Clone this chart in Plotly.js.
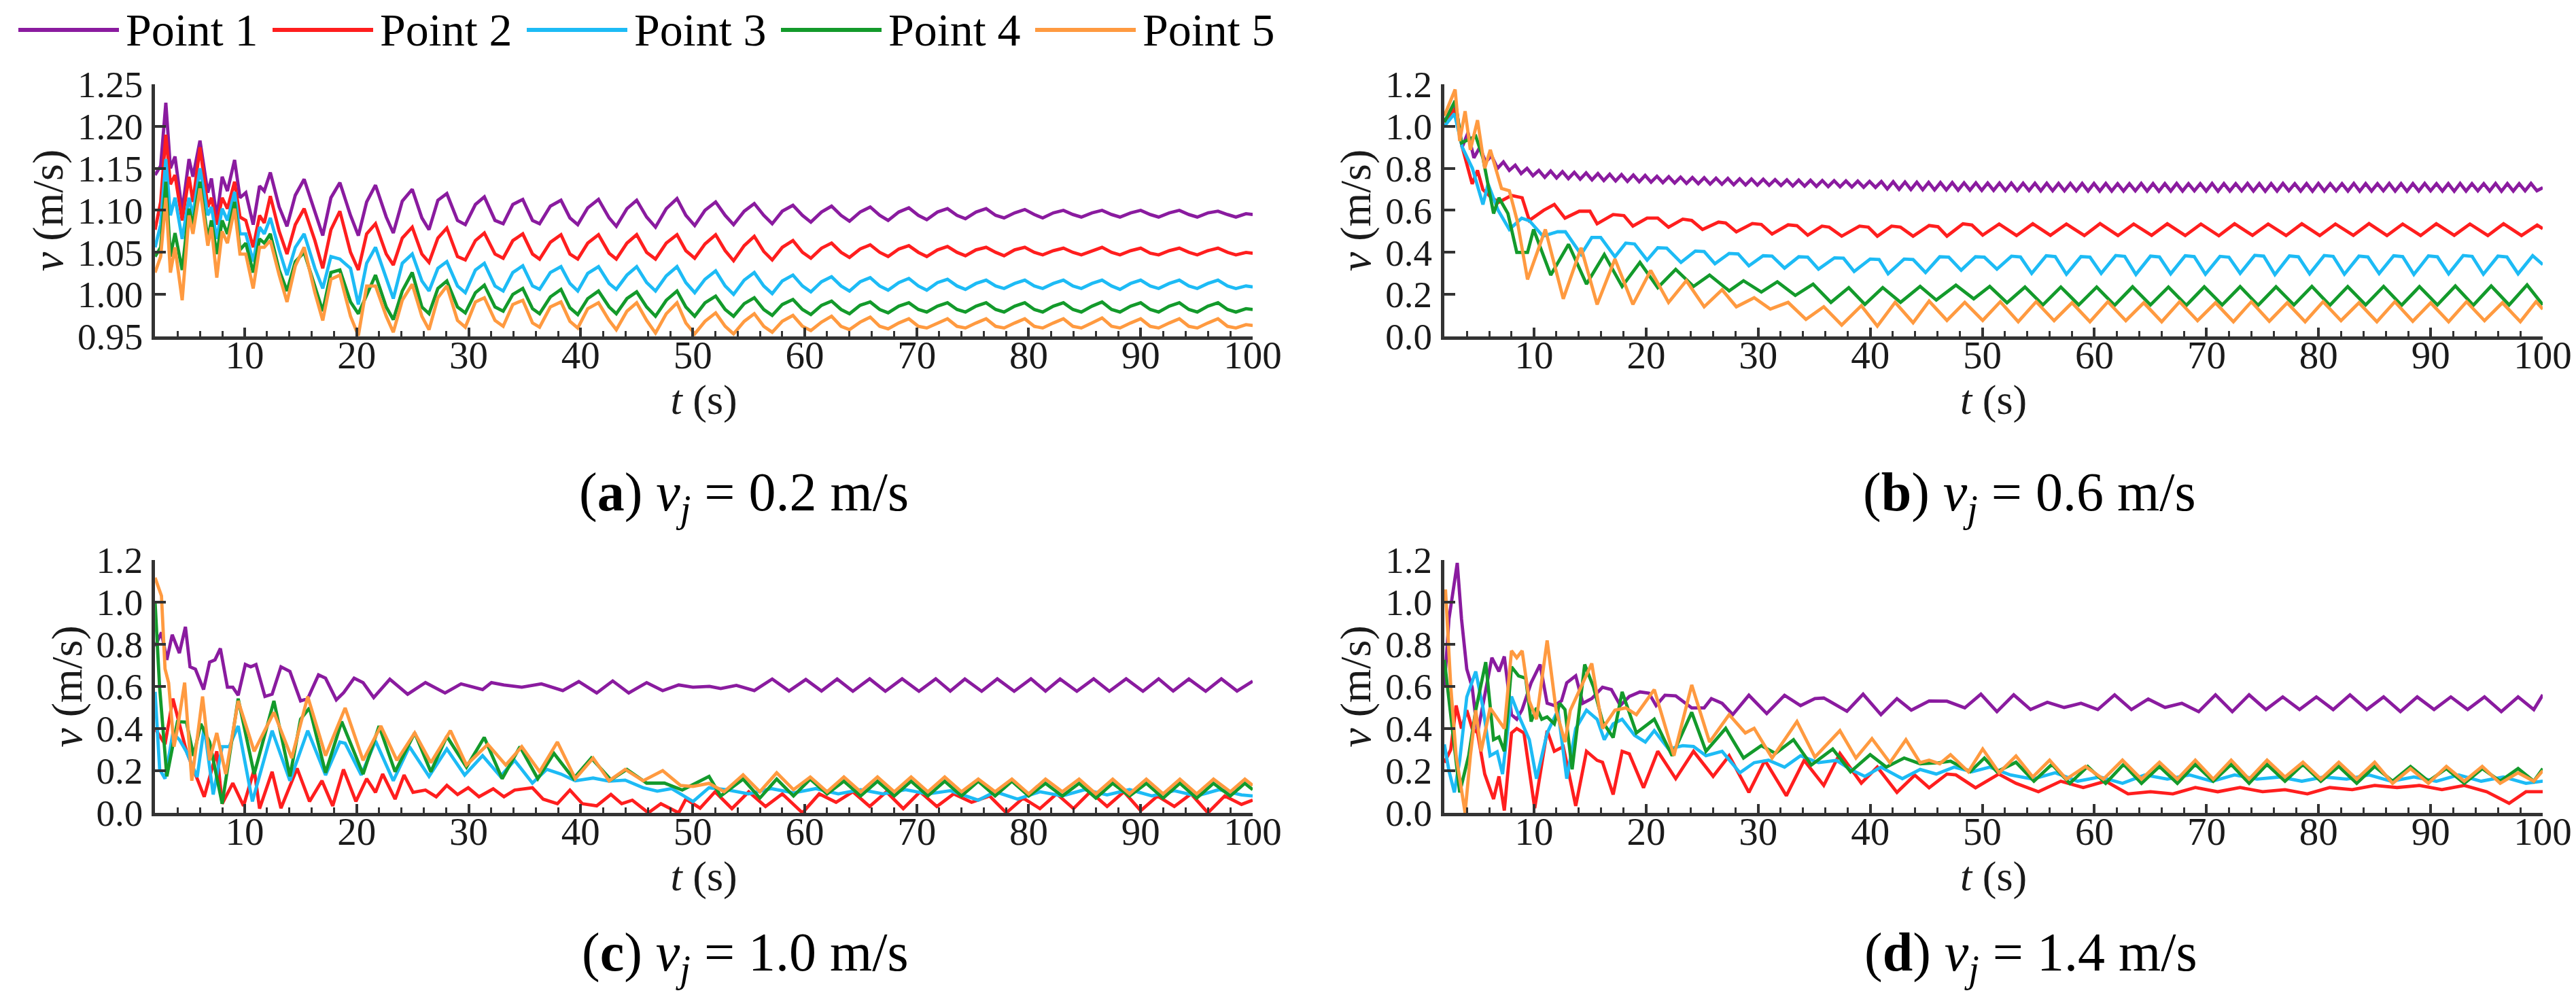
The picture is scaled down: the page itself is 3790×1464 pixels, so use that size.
<!DOCTYPE html>
<html>
<head>
<meta charset="utf-8">
<script src="https://cdn.plot.ly/plotly-3.0.1.min.js"></script>
<style>
  html, body { margin: 0; padding: 0; background: #ffffff; }
</style>
</head>
<body>
<div id="chart" style="width:3790px;height:1464px"></div>
<script>
// Velocity at the five monitoring points, four jet speeds.

const seriesNames = ['Point 1', 'Point 2', 'Point 3', 'Point 4', 'Point 5'];
const captionLetters = ['a', 'b', 'c', 'd'];
const jetSpeeds = [0.2, 0.6, 1.0, 1.4];

const xTickVals = [10, 20, 30, 40, 50, 60, 70, 80, 90, 100];
const xTickText = ['10', '20', '30', '40', '50', '60', '70', '80', '90', '100'];
const yTickValsA = [0.95, 1.00, 1.05, 1.10, 1.15, 1.20, 1.25];
const yTickTextA = ['0.95', '1.00', '1.05', '1.10', '1.15', '1.20', '1.25'];
const yTickVals = [0, 0.2, 0.4, 0.6, 0.8, 1.0, 1.2];
const yTickText = ['0.0', '0.2', '0.4', '0.6', '0.8', '1.0', '1.2'];

// ---- (a) vj = 0.2 m/s : one time base shared by all five points
const tA = [2.0, 2.5, 2.96, 3.37, 3.78, 4.42, 5.03, 5.38, 6.01, 6.71, 7.03, 7.51, 7.99, 8.46, 9.10, 9.58, 10.1, 10.76, 11.33, 11.75,
  12.29, 13.08, 13.78, 14.52, 15.31, 16.27, 16.97, 17.70, 18.50, 19.45, 20.15, 20.89, 21.68, 22.64, 23.27, 24.07, 24.96, 25.82, 26.46, 27.25,
  28.05, 29.0, 29.7, 30.6, 31.4, 32.35, 33.08, 33.94, 34.83, 35.7, 36.33, 37.29, 38.24, 39.04, 39.74, 40.63, 41.59, 42.54, 43.18, 44.13,
  45.0, 45.89, 46.68, 47.64, 48.6, 49.39, 50.18,
  51.1, 52.05, 52.9, 53.65, 54.6, 55.5, 56.35, 57.1, 58.0, 58.95, 59.8, 60.55, 61.5, 62.4, 63.25, 64.0,
  64.95, 65.85, 66.7, 67.45, 68.4, 69.3, 70.15, 70.9, 71.85, 72.75, 73.6, 74.35, 75.3, 76.2, 77.05, 77.8,
  78.75, 79.65, 80.5, 81.25, 82.2, 83.1, 83.95, 84.7, 85.65, 86.55, 87.4, 88.15, 89.1, 90.0, 90.85, 91.6,
  92.55, 93.45, 94.3, 95.05, 96.0, 96.9, 97.75, 98.5, 99.4, 100];
const vA1 = [1.142, 1.153, 1.228, 1.150, 1.164, 1.099, 1.161, 1.140, 1.183, 1.121,
  1.138, 1.091, 1.140, 1.123, 1.160, 1.115, 1.121, 1.083, 1.129, 1.123,
  1.145, 1.104, 1.081, 1.118, 1.137, 1.099, 1.070, 1.115, 1.133, 1.094,
  1.070, 1.110, 1.130, 1.092, 1.073, 1.111, 1.125, 1.091, 1.077, 1.112,
  1.120, 1.088, 1.083, 1.107, 1.116, 1.088, 1.084, 1.107, 1.113, 1.088,
  1.084, 1.105, 1.112, 1.091, 1.083, 1.103, 1.113, 1.091, 1.081, 1.102,
  1.112, 1.092, 1.080, 1.102, 1.114, 1.094, 1.082,
  1.100, 1.110, 1.094, 1.083, 1.099, 1.108, 1.094, 1.084, 1.099, 1.106, 1.094, 1.086, 1.098, 1.105, 1.094, 1.087,
  1.098, 1.104, 1.094, 1.088, 1.098, 1.103, 1.094, 1.089, 1.098, 1.102, 1.094, 1.090, 1.098, 1.102, 1.094, 1.091,
  1.097, 1.101, 1.095, 1.091, 1.097, 1.100, 1.095, 1.092, 1.097, 1.100, 1.095, 1.092, 1.097, 1.100, 1.095, 1.092,
  1.097, 1.100, 1.095, 1.092, 1.097, 1.099, 1.095, 1.092, 1.096, 1.095];
const vA2 = [1.077, 1.110, 1.190, 1.131, 1.142, 1.088, 1.140, 1.110, 1.175, 1.104,
  1.115, 1.083, 1.115, 1.102, 1.134, 1.092, 1.088, 1.056, 1.094, 1.085,
  1.117, 1.075, 1.048, 1.083, 1.102, 1.064, 1.031, 1.077, 1.099, 1.050,
  1.029, 1.072, 1.084, 1.048, 1.035, 1.067, 1.080, 1.048, 1.038, 1.067,
  1.079, 1.045, 1.041, 1.064, 1.073, 1.048, 1.043, 1.064, 1.072, 1.048,
  1.042, 1.062, 1.071, 1.048, 1.042, 1.061, 1.071, 1.049, 1.042, 1.061,
  1.071, 1.050, 1.042, 1.061, 1.071, 1.052, 1.043,
  1.060, 1.071, 1.052, 1.040, 1.058, 1.069, 1.051, 1.041, 1.056, 1.064, 1.050, 1.043, 1.055, 1.061, 1.050, 1.044,
  1.054, 1.059, 1.050, 1.045, 1.054, 1.058, 1.050, 1.045, 1.053, 1.057, 1.050, 1.046, 1.053, 1.056, 1.050, 1.046,
  1.053, 1.056, 1.050, 1.047, 1.052, 1.055, 1.050, 1.047, 1.052, 1.056, 1.050, 1.047, 1.052, 1.055, 1.049, 1.047,
  1.052, 1.055, 1.050, 1.047, 1.052, 1.055, 1.050, 1.047, 1.050, 1.049];
const vA3 = [1.056, 1.083, 1.161, 1.094, 1.115, 1.066, 1.115, 1.094, 1.150, 1.094,
  1.104, 1.066, 1.102, 1.088, 1.122, 1.072, 1.072, 1.039, 1.080, 1.072,
  1.091, 1.053, 1.023, 1.056, 1.072, 1.031, 1.007, 1.045, 1.042, 1.031,
  0.988, 1.037, 1.056, 1.018, 0.995, 1.037, 1.048, 1.016, 1.004, 1.031,
  1.039, 1.010, 1.002, 1.029, 1.037, 1.010, 1.004, 1.026, 1.034, 1.010,
  1.006, 1.026, 1.033, 1.013, 1.004, 1.025, 1.033, 1.013, 1.006, 1.023,
  1.033, 1.014, 1.004, 1.022, 1.033, 1.014, 1.002,
  1.018, 1.028, 1.010, 1.000, 1.017, 1.026, 1.010, 1.001, 1.016, 1.023, 1.010, 1.003, 1.015, 1.021, 1.010, 1.004,
  1.015, 1.020, 1.010, 1.005, 1.014, 1.019, 1.010, 1.005, 1.014, 1.018, 1.010, 1.006, 1.013, 1.017, 1.010, 1.007,
  1.013, 1.017, 1.010, 1.007, 1.013, 1.017, 1.010, 1.007, 1.013, 1.017, 1.010, 1.006, 1.013, 1.017, 1.010, 1.007,
  1.013, 1.017, 1.010, 1.007, 1.013, 1.017, 1.010, 1.007, 1.010, 1.009];
const vA4 = [1.045, 1.056, 1.134, 1.045, 1.073, 1.029, 1.102, 1.083, 1.134, 1.066,
  1.088, 1.048, 1.088, 1.072, 1.110, 1.053, 1.061, 1.026, 1.066, 1.061,
  1.072, 1.029, 1.004, 1.039, 1.050, 1.010, 0.980, 1.026, 1.029, 0.991,
  0.977, 0.999, 1.023, 0.985, 0.970, 1.004, 1.026, 0.985, 0.977, 1.007,
  1.016, 0.985, 0.978, 1.002, 1.011, 0.985, 0.980, 1.000, 1.007, 0.983,
  0.977, 0.997, 1.006, 0.984, 0.976, 0.995, 1.004, 0.985, 0.977, 0.995,
  1.003, 0.985, 0.974, 0.993, 1.004, 0.985, 0.974,
  0.990, 0.998, 0.982, 0.974, 0.989, 0.996, 0.982, 0.975, 0.988, 0.994, 0.982, 0.976, 0.987, 0.992, 0.982, 0.977,
  0.987, 0.991, 0.982, 0.978, 0.986, 0.990, 0.982, 0.979, 0.986, 0.990, 0.982, 0.979, 0.986, 0.990, 0.982, 0.979,
  0.986, 0.990, 0.982, 0.979, 0.986, 0.990, 0.982, 0.979, 0.986, 0.991, 0.982, 0.979, 0.986, 0.990, 0.982, 0.979,
  0.986, 0.990, 0.982, 0.979, 0.986, 0.990, 0.982, 0.979, 0.983, 0.982];
const vA5 = [1.026, 1.045, 1.115, 1.026, 1.056, 0.993, 1.094, 1.072, 1.126, 1.058,
  1.080, 1.020, 1.075, 1.061, 1.102, 1.048, 1.048, 1.007, 1.056, 1.056,
  1.064, 1.023, 0.991, 1.034, 1.056, 1.002, 0.969, 1.018, 1.023, 0.974,
  0.951, 1.010, 1.010, 0.974, 0.955, 0.993, 1.012, 0.974, 0.958, 0.996,
  1.010, 0.969, 0.961, 0.991, 0.996, 0.969, 0.962, 0.988, 0.993, 0.966,
  0.961, 0.985, 0.991, 0.968, 0.960, 0.983, 0.990, 0.969, 0.958, 0.980,
  0.990, 0.969, 0.954, 0.977, 0.990, 0.966, 0.953,
  0.968, 0.978, 0.962, 0.953, 0.968, 0.977, 0.962, 0.955, 0.968, 0.975, 0.962, 0.957, 0.967, 0.974, 0.962, 0.958,
  0.967, 0.973, 0.962, 0.959, 0.966, 0.971, 0.962, 0.960, 0.966, 0.971, 0.962, 0.960, 0.966, 0.971, 0.962, 0.960,
  0.966, 0.971, 0.962, 0.960, 0.966, 0.971, 0.962, 0.960, 0.966, 0.972, 0.962, 0.960, 0.966, 0.971, 0.962, 0.960,
  0.966, 0.971, 0.962, 0.960, 0.966, 0.971, 0.962, 0.960, 0.964, 0.963];

// ---- (b) vj = 0.6 m/s
// Point 1 is a fast zigzag read at a constant step starting at t = 2 s
const t0B1 = 2;
const dtB1 = 0.5269;
const vB1 = [1.020, 1.070, 1.090, 0.900, 0.970, 0.850, 0.900, 0.830, 0.860, 0.800, 0.830, 0.790, 0.815, 0.775, 0.800, 0.765, 0.790,
  0.757, 0.787, 0.754, 0.784, 0.751, 0.781, 0.748, 0.778,
  0.745, 0.775, 0.742, 0.772, 0.740, 0.770, 0.738, 0.768, 0.736, 0.766,
  0.734, 0.762, 0.732, 0.760, 0.730, 0.758, 0.728, 0.756, 0.727, 0.755,
  0.725, 0.753, 0.724, 0.752, 0.722, 0.750, 0.721, 0.749, 0.720, 0.748,
  0.719, 0.746, 0.718, 0.745, 0.716, 0.744, 0.715, 0.743, 0.714, 0.742,
  0.713, 0.741, 0.712, 0.740, 0.711, 0.739, 0.710, 0.738, 0.709, 0.737,
  0.702, 0.736, 0.700, 0.735, 0.699, 0.734, 0.698, 0.733, 0.697, 0.732,
  0.697, 0.732, 0.696, 0.731, 0.696, 0.731, 0.695, 0.730, 0.695, 0.730,
  0.694, 0.730, 0.694, 0.729, 0.694, 0.729, 0.693, 0.729, 0.693, 0.728,
  0.693, 0.728, 0.693, 0.728, 0.692, 0.728, 0.692, 0.728, 0.692, 0.727,
  0.692, 0.727, 0.693, 0.728, 0.692, 0.727, 0.691, 0.727, 0.692, 0.728,
  0.692, 0.727, 0.693, 0.727, 0.692, 0.728, 0.691, 0.727, 0.692, 0.727,
  0.693, 0.728, 0.692, 0.727, 0.691, 0.727, 0.692, 0.728, 0.693, 0.727,
  0.692, 0.727, 0.691, 0.728, 0.692, 0.727, 0.693, 0.727, 0.692, 0.728,
  0.691, 0.727, 0.692, 0.727, 0.693, 0.728, 0.692, 0.727, 0.691, 0.727,
  0.692, 0.728, 0.693, 0.727, 0.692, 0.727, 0.691, 0.728, 0.692, 0.727,
  0.693, 0.727, 0.692, 0.728, 0.691, 0.727, 0.692, 0.727, 0.693, 0.728,
  0.693, 0.708];
const tB2 = [2.0, 2.89, 3.6, 4.48, 4.96, 5.44, 6.2, 6.87, 7.99, 8.94, 9.58, 10.85, 11.81, 12.76, 14.04, 14.99, 15.63, 17.06, 18.02, 18.82,
  20.09, 21.04, 22.0, 23.27, 24.07, 25.03, 26.46, 27.1, 28.05, 29.48, 30.28, 31.24, 32.67, 33.46, 34.42, 35.69, 36.33, 37.45, 39.04, 39.83,
  40.63, 41.9, 42.7, 43.82, 45.25, 46.04, 46.84, 48.27, 49.07, 50.03,
  51.5, 53.05, 54.5, 56.07, 57.5, 59.1, 60.5, 62.1, 63.5, 65.1, 66.5, 68.1, 69.5, 71.1, 72.5, 74.1, 75.5, 77.1, 78.5, 80.1,
  81.5, 83.1, 84.5, 86.1, 87.5, 89.1, 90.5, 92.1, 93.5, 95.1, 96.5, 98.1, 99.5, 100];
const vB2 = [1.018, 1.083, 0.900, 0.726, 0.790, 0.699, 0.660, 0.639, 0.671, 0.660,
  0.552, 0.600, 0.628, 0.563, 0.596, 0.596, 0.536, 0.580, 0.575, 0.525,
  0.563, 0.563, 0.520, 0.558, 0.552, 0.509, 0.544, 0.540, 0.498, 0.537,
  0.533, 0.487, 0.531, 0.527, 0.482, 0.525, 0.520, 0.477, 0.525, 0.520,
  0.477, 0.525, 0.520, 0.477, 0.528, 0.522, 0.477, 0.536, 0.530, 0.482,
  0.535, 0.480, 0.536, 0.481, 0.535, 0.480, 0.537, 0.480, 0.535, 0.481, 0.536, 0.480, 0.535, 0.479, 0.536, 0.481,
  0.535, 0.480, 0.536, 0.480, 0.535, 0.481, 0.537, 0.480, 0.535, 0.480, 0.536, 0.481, 0.535, 0.480, 0.536, 0.480,
  0.530, 0.513];
const tB3 = [2.0, 2.9, 3.6, 4.5, 5.44, 5.9, 6.8, 7.8, 8.9, 9.6, 10.8, 12.1, 12.8, 14.2, 15.15, 15.95, 17.22, 18.18, 18.97, 20.09,
  21.04, 21.84, 23.11, 24.39, 25.18, 26.14, 27.41, 28.21, 29.17, 30.44, 31.24, 32.35, 33.62, 34.42, 35.38, 36.81, 37.61, 38.56, 39.99, 40.79,
  41.59, 43.02, 43.82, 44.93, 46.2, 47.0, 48.11, 49.39, 50.18, 51.3,
  52.6, 53.4, 54.4, 55.7, 56.5, 57.5, 58.8, 59.6, 60.6, 61.9, 62.7, 63.7, 65.0, 65.8, 66.8, 68.1, 68.9, 69.9,
  71.2, 72.0, 73.0, 74.3, 75.1, 76.1, 77.4, 78.2, 79.2, 80.5, 81.3, 82.3, 83.6, 84.4, 85.4, 86.7, 87.5, 88.5,
  89.8, 90.6, 91.6, 92.9, 93.7, 94.7, 96.0, 96.8, 97.8, 99.1, 100];
const vB3 = [1.00, 1.06, 0.90, 0.80, 0.628, 0.726, 0.60, 0.509, 0.563, 0.55,
  0.477, 0.498, 0.498, 0.39, 0.471, 0.471, 0.379, 0.444, 0.44, 0.363,
  0.422, 0.42, 0.352, 0.406, 0.404, 0.346, 0.395, 0.393, 0.336, 0.384,
  0.382, 0.325, 0.379, 0.377, 0.32, 0.374, 0.372, 0.309, 0.368, 0.366,
  0.298, 0.368, 0.366, 0.304, 0.379, 0.377, 0.315, 0.379, 0.377, 0.32,
  0.382, 0.378, 0.300, 0.384, 0.380, 0.296, 0.380, 0.377, 0.300, 0.385, 0.381, 0.295, 0.382, 0.378, 0.298,
  0.384, 0.380, 0.296, 0.381, 0.377, 0.300, 0.386, 0.382, 0.294, 0.383, 0.379, 0.298, 0.385, 0.381, 0.296,
  0.382, 0.378, 0.299, 0.384, 0.380, 0.295, 0.383, 0.379, 0.298, 0.385, 0.381, 0.296, 0.382, 0.378, 0.298,
  0.384, 0.342];
const tB4 = [2.0, 2.96, 3.53, 4.8, 5.44, 6.39, 6.87, 7.67, 8.46, 9.42, 9.96, 11.49, 13.08, 14.68, 16.27, 17.86, 19.45, 21.04, 22.64, 24.23,
  25.66, 27.41, 28.69, 30.28, 31.71, 33.31, 34.9, 36.49, 38.08, 39.52, 41.11, 42.7, 44.45, 45.89, 47.64, 49.23, 50.66,
  52.2, 53.8, 55.4, 57.0, 58.6, 60.2, 61.8, 63.4, 65.0, 66.6, 68.2, 69.8, 71.4, 73.0, 74.6, 76.2, 77.8, 79.4,
  81.0, 82.6, 84.2, 85.8, 87.4, 89.0, 90.6, 92.2, 93.8, 95.4, 97.0, 98.6, 100];
const vB4 = [1.02, 1.121, 0.921, 0.953, 0.85, 0.585, 0.66, 0.585, 0.40, 0.40,
  0.509, 0.292, 0.438, 0.249, 0.39, 0.238, 0.352, 0.232, 0.319, 0.238,
  0.292, 0.217, 0.265, 0.211, 0.26, 0.195, 0.249, 0.162, 0.232, 0.152,
  0.232, 0.162, 0.238, 0.173, 0.244, 0.179, 0.238,
  0.16, 0.235, 0.15, 0.235, 0.15, 0.235, 0.148, 0.236, 0.15, 0.235, 0.148, 0.236, 0.15, 0.237, 0.148, 0.236, 0.15, 0.238,
  0.148, 0.237, 0.15, 0.238, 0.148, 0.237, 0.15, 0.24, 0.148, 0.24, 0.15, 0.245, 0.15];
const tB5 = [2.0, 2.96, 3.37, 3.85, 4.32, 4.96, 5.6, 6.1, 7.1, 7.8, 8.5, 9.42, 11.01, 12.61, 14.2, 15.63, 17.22, 18.82, 20.41, 22.0,
  23.59, 25.18, 26.78, 28.05, 29.64, 31.08, 32.67, 34.26, 35.85, 37.45, 39.2, 40.63, 42.22, 43.82, 45.25, 46.84, 48.43, 50.03,
  51.6, 53.2, 54.8, 56.4, 58.0, 59.6, 61.2, 62.8, 64.4, 66.0, 67.6, 69.2, 70.8, 72.4, 74.0, 75.6, 77.2, 78.8,
  80.4, 82.0, 83.6, 85.2, 86.8, 88.4, 90.0, 91.6, 93.2, 94.8, 96.4, 98.0, 99.4, 100];
const vB5 = [1.05, 1.175, 0.93, 1.072, 0.888, 1.029, 0.80, 0.888, 0.704, 0.693,
  0.55, 0.271, 0.509, 0.179, 0.422, 0.152, 0.368, 0.152, 0.314, 0.162,
  0.265, 0.141, 0.222, 0.141, 0.184, 0.13, 0.162, 0.081, 0.141, 0.054,
  0.146, 0.049, 0.162, 0.065, 0.168, 0.076, 0.162, 0.076,
  0.165, 0.07, 0.165, 0.075, 0.16, 0.07, 0.165, 0.075, 0.16, 0.07, 0.165, 0.075, 0.16, 0.07, 0.165, 0.072, 0.16, 0.07,
  0.165, 0.075, 0.16, 0.07, 0.165, 0.072, 0.16, 0.07, 0.165, 0.075, 0.16, 0.07, 0.165, 0.13];

// ---- (c) vj = 1.0 m/s
const tC1 = [2.0, 2.57, 3.05, 3.53, 4.17, 4.71, 5.12, 5.6, 6.33, 6.87, 7.35, 7.83, 8.46, 8.94, 9.42, 10.06, 10.54, 11.01, 11.81, 12.45,
  13.24, 14.04, 14.99, 15.63, 16.59, 17.22, 18.18, 18.82, 19.77, 20.57, 21.52, 22.96, 24.55, 26.14, 27.89, 29.32, 31.24, 32.03, 33.15, 34.74,
  36.49, 38.4, 39.83, 41.43, 42.86, 44.29, 45.89, 47.32, 48.75, 50.03,
  51.5, 52.5, 53.9, 55.5, 57.1, 58.6, 60.1, 61.5, 62.9, 64.3, 65.8, 67.2, 68.7, 70.2, 71.7, 73.0, 74.3, 75.8, 77.2, 78.7,
  80.2, 81.5, 82.8, 84.3, 85.8, 87.2, 88.7, 90.2, 91.6, 92.9, 94.3, 95.8, 97.2, 98.6, 100];
const vC1 = [0.79, 0.856, 0.726, 0.845, 0.758, 0.883, 0.693, 0.682, 0.585, 0.715,
  0.726, 0.78, 0.596, 0.596, 0.558, 0.704, 0.693, 0.704, 0.552, 0.563,
  0.693, 0.671, 0.531, 0.542, 0.655, 0.639, 0.536, 0.569, 0.639, 0.618,
  0.547, 0.634, 0.563, 0.618, 0.569, 0.612, 0.585, 0.618, 0.607, 0.596,
  0.612, 0.58, 0.623, 0.569, 0.626, 0.569, 0.618, 0.58, 0.607, 0.596,
  0.60, 0.59, 0.605, 0.58, 0.635, 0.578, 0.633, 0.578, 0.635, 0.577,
  0.636, 0.577, 0.636, 0.577, 0.636, 0.578, 0.635, 0.577, 0.636, 0.577,
  0.636, 0.578, 0.635, 0.577, 0.636, 0.577, 0.636, 0.577, 0.636, 0.578,
  0.635, 0.577, 0.636, 0.578, 0.625];
const tC2 = [2.0, 2.89, 3.59, 4.17, 4.8, 5.44, 6.39, 7.51, 7.99, 8.94, 9.9, 10.85, 11.33, 12.45, 13.24, 14.68, 15.79, 16.9, 17.86, 18.82,
  19.93, 20.89, 21.68, 22.32, 23.43, 24.23, 25.03, 26.14, 27.1, 28.05, 29.01, 29.96, 30.92, 32.19, 33.15, 34.1, 35.69, 36.65, 37.92, 39.04,
  40.15, 41.43, 42.7, 43.66, 44.61, 46.04, 47.16, 48.75, 49.39, 50.66,
  52.0, 53.5, 55.0, 56.5, 58.0, 59.8, 61.3, 62.8, 64.3, 65.8, 67.3, 68.8, 70.3, 71.8, 73.3, 74.9, 76.5, 78.0, 79.5, 81.0,
  82.5, 84.0, 85.5, 87.0, 88.5, 90.0, 91.5, 93.0, 94.5, 96.0, 97.5, 99.0, 100];
const vC2 = [0.40, 0.325, 0.542, 0.422, 0.292, 0.205, 0.076, 0.292, 0.043, 0.141,
  0.033, 0.206, 0.02, 0.195, 0.022, 0.211, 0.054, 0.152, 0.033, 0.206,
  0.054, 0.162, 0.097, 0.184, 0.065, 0.179, 0.097, 0.108, 0.076, 0.13,
  0.087, 0.119, 0.076, 0.114, 0.076, 0.108, 0.119, 0.065, 0.043, 0.108,
  0.043, 0.033, 0.087, 0.043, 0.06, 0.0, 0.043, 0.0, 0.065, 0.022,
  0.10, 0.02, 0.10, 0.03, 0.09, 0.0, 0.09, 0.05, 0.10, 0.03,
  0.10, 0.02, 0.10, 0.03, 0.09, 0.05, 0.08, 0.0, 0.07, 0.02,
  0.09, 0.02, 0.10, 0.03, 0.10, 0.01, 0.08, 0.03, 0.09, 0.0,
  0.08, 0.04, 0.06];
const tC3 = [2.0, 2.41, 2.89, 3.59, 4.17, 4.8, 5.76, 6.39, 7.19, 7.99, 8.62, 9.42, 10.69, 12.45, 14.04, 15.63, 17.22, 18.5, 18.97, 20.41,
  21.68, 23.27, 24.71, 26.46, 28.05, 29.64, 31.24, 32.83, 34.1, 35.69, 36.97, 38.24, 39.52, 41.11, 42.54, 43.97, 45.57, 46.84, 48.11, 50.03,
  51.46, 53.0, 55.0, 57.0, 59.0, 61.0, 63.0, 65.0, 67.0, 69.0, 71.0, 73.0, 75.5, 77.0, 79.0, 81.0, 83.0, 85.0, 87.0, 89.0,
  91.0, 93.0, 95.0, 97.0, 99.0, 100];
const vC3 = [0.574, 0.206, 0.162, 0.379, 0.347, 0.29, 0.17, 0.41, 0.087, 0.314,
  0.314, 0.412, 0.054, 0.39, 0.152, 0.39, 0.179, 0.336, 0.33, 0.179,
  0.341, 0.152, 0.314, 0.173, 0.303, 0.179, 0.271, 0.173, 0.249, 0.141,
  0.206, 0.184, 0.152, 0.165, 0.15, 0.155, 0.119, 0.103, 0.115, 0.054,
  0.119, 0.11, 0.09, 0.115, 0.095, 0.115, 0.09, 0.11, 0.09, 0.11,
  0.09, 0.105, 0.06, 0.10, 0.065, 0.10, 0.08, 0.11, 0.085, 0.11,
  0.08, 0.105, 0.08, 0.11, 0.085, 0.08];
const tC4 = [2.0, 2.4, 3.05, 4.0, 4.8, 5.44, 6.08, 6.87, 7.99, 9.42, 10.85, 12.61, 14.04, 14.99, 15.79, 17.22, 18.66, 20.57, 22.0, 23.43,
  25.18, 26.62, 28.05, 29.8, 31.39, 32.99, 34.58, 36.17, 37.61, 39.36, 40.95, 42.7, 44.13, 45.89, 47.48, 49.07, 51.46,
  52.5, 54.5, 56.0, 57.5, 59.0, 60.5, 62.0, 63.5, 65.0, 66.5, 68.0, 69.5, 71.0, 72.5, 74.0, 75.5, 77.0, 78.5, 80.0,
  81.5, 83.0, 84.5, 86.0, 87.5, 89.0, 90.5, 92.0, 93.5, 95.0, 96.5, 98.0, 99.3, 100];
const vC4 = [1.0, 0.60, 0.173, 0.433, 0.43, 0.27, 0.422, 0.336, 0.043, 0.542,
  0.184, 0.531, 0.173, 0.444, 0.498, 0.19, 0.433, 0.184, 0.412, 0.195,
  0.379, 0.195, 0.363, 0.217, 0.358, 0.162, 0.314, 0.162, 0.282, 0.162,
  0.26, 0.157, 0.206, 0.141, 0.141, 0.108, 0.173,
  0.08, 0.16, 0.07, 0.16, 0.08, 0.16, 0.09, 0.15, 0.08, 0.15, 0.08, 0.15, 0.08, 0.15, 0.08, 0.15, 0.08, 0.15, 0.08,
  0.14, 0.08, 0.14, 0.07, 0.14, 0.08, 0.14, 0.07, 0.14, 0.07, 0.14, 0.08, 0.14, 0.11];
const tC5 = [2.0, 2.57, 2.89, 3.21, 3.69, 4.0, 4.64, 5.28, 6.24, 6.87, 7.51, 8.31, 9.42, 10.85, 12.61, 14.2, 15.63, 17.22, 18.97, 20.57,
  22.16, 23.59, 25.18, 26.62, 28.37, 29.8, 31.71, 33.31, 34.74, 36.33, 37.92, 39.52, 41.11, 42.54, 43.97, 45.57, 47.32, 48.91, 50.03, 51.46,
  52.8, 54.5, 56.0, 57.5, 59.0, 60.5, 62.0, 63.5, 65.0, 66.5, 68.0, 69.5, 71.0, 72.5, 74.0, 75.5, 77.0, 78.5, 80.0, 81.5,
  83.0, 84.5, 86.0, 87.5, 89.0, 90.5, 92.0, 93.5, 95.0, 96.5, 98.0, 99.3, 100];
const vC5 = [1.116, 1.03, 0.683, 0.617, 0.314, 0.40, 0.618, 0.152, 0.552, 0.249,
  0.379, 0.184, 0.531, 0.292, 0.477, 0.26, 0.552, 0.271, 0.498, 0.249,
  0.412, 0.249, 0.379, 0.238, 0.39, 0.227, 0.325, 0.227, 0.314, 0.195,
  0.336, 0.162, 0.26, 0.152, 0.206, 0.152, 0.20, 0.13, 0.125, 0.14,
  0.10, 0.18, 0.10, 0.19, 0.11, 0.17, 0.10, 0.17, 0.10, 0.17,
  0.10, 0.17, 0.10, 0.17, 0.10, 0.16, 0.10, 0.16, 0.09, 0.16,
  0.10, 0.16, 0.09, 0.16, 0.09, 0.16, 0.09, 0.16, 0.09, 0.16,
  0.10, 0.16, 0.13];

// ---- (d) vj = 1.4 m/s
const tD1 = [2.0, 2.41, 3.15, 3.53, 4.0, 4.48, 4.96, 5.6, 6.24, 6.87, 7.35, 7.99, 8.46, 8.94, 9.74, 10.54, 11.17, 11.81, 12.45, 12.92,
  13.72, 14.36, 15.15, 16.11, 16.9, 17.7, 18.5, 19.45, 20.25, 20.89, 21.68, 22.64, 23.27, 24.07, 25.18, 25.82, 26.78, 27.73, 29.17, 30.76,
  32.35, 33.78, 35.06, 35.85, 36.33, 37.92, 39.36, 40.95, 42.38, 43.66, 45.25, 46.84, 48.43, 49.87,
  51.3, 52.8, 54.3, 55.8, 57.3, 58.8, 60.3, 61.8, 63.3, 64.8, 66.3, 67.8, 69.3, 70.8, 72.3, 73.8, 75.3, 76.8, 78.3, 79.8,
  81.3, 82.8, 84.3, 85.8, 87.3, 88.8, 90.3, 91.8, 93.3, 94.8, 96.3, 97.8, 99.2, 100];
const vD1 = [0.596, 0.92, 1.186, 0.92, 0.682, 0.596, 0.379, 0.552, 0.736, 0.671,
  0.742, 0.466, 0.444, 0.49, 0.617, 0.704, 0.52, 0.509, 0.531, 0.617,
  0.65, 0.52, 0.542, 0.596, 0.585, 0.509, 0.552, 0.574, 0.568, 0.509,
  0.558, 0.555, 0.531, 0.498, 0.498, 0.542, 0.52, 0.466, 0.558, 0.471,
  0.558, 0.509, 0.542, 0.545, 0.531, 0.482, 0.563, 0.466, 0.542, 0.487,
  0.531, 0.53, 0.498, 0.563,
  0.48, 0.56, 0.49, 0.525, 0.50, 0.52, 0.49, 0.56, 0.49, 0.54, 0.50, 0.52, 0.48, 0.56, 0.48, 0.56, 0.49, 0.55, 0.49, 0.55,
  0.49, 0.56, 0.49, 0.55, 0.48, 0.55, 0.49, 0.55, 0.49, 0.55, 0.48, 0.55, 0.49, 0.56];
const tD2 = [2.0, 2.57, 3.05, 3.53, 4.0, 4.48, 4.96, 5.6, 6.39, 6.87, 7.35, 7.99, 8.46, 9.1, 10.06, 11.17, 11.81, 12.61, 13.72, 14.68,
  15.63, 16.11, 17.06, 17.86, 18.5, 19.77, 21.04, 22.64, 24.23, 25.98, 27.41, 29.17, 30.6, 32.51, 34.1, 35.85, 37.29, 39.2, 40.63, 42.38,
  43.97, 45.25, 46.84, 47.64, 49.39, 51.46,
  53.0, 55.0, 57.0, 59.0, 61.0, 63.0, 65.0, 67.0, 69.0, 71.0, 73.0, 75.0, 77.0, 79.0, 81.0, 83.0, 85.0, 87.0, 89.0, 91.0,
  93.0, 95.0, 97.0, 98.5, 100];
const vD2 = [0.238, 0.30, 0.509, 0.40, 0.487, 0.40, 0.38, 0.184, 0.065, 0.173,
  0.011, 0.379, 0.40, 0.379, 0.022, 0.39, 0.292, 0.314, 0.033, 0.292,
  0.249, 0.24, 0.087, 0.292, 0.28, 0.119, 0.292, 0.162, 0.292, 0.173,
  0.271, 0.097, 0.249, 0.081, 0.249, 0.13, 0.282, 0.141, 0.217, 0.097,
  0.179, 0.119, 0.184, 0.18, 0.119, 0.184,
  0.14, 0.10, 0.15, 0.12, 0.15, 0.09, 0.10, 0.09, 0.12, 0.10, 0.12, 0.10, 0.11, 0.09, 0.12, 0.11, 0.13, 0.12, 0.13, 0.11,
  0.13, 0.10, 0.045, 0.10, 0.10];
const tD3 = [2.0, 2.41, 2.89, 3.37, 4.0, 4.8, 5.44, 6.08, 6.71, 7.19, 7.99, 8.78, 9.58, 10.22, 11.17, 12.13, 12.92, 13.72, 14.68, 15.63,
  16.27, 17.06, 17.86, 18.97, 19.93, 20.73, 22.0, 23.27, 24.23, 25.34, 26.78, 28.37, 29.64, 30.92, 32.35, 33.78, 35.38, 36.97, 38.24, 39.52,
  40.95, 42.86, 44.45, 45.89, 47.48, 49.07, 50.66,
  52.5, 54.5, 56.5, 58.5, 60.5, 62.5, 64.5, 66.5, 68.5, 70.5, 72.5, 74.5, 76.5, 78.5, 80.5, 82.5, 84.5, 86.5, 88.5, 90.5,
  92.5, 94.5, 96.5, 98.5, 100];
const vD3 = [0.325, 0.20, 0.097, 0.25, 0.55, 0.671, 0.50, 0.271, 0.29, 0.184,
  0.552, 0.444, 0.347, 0.162, 0.379, 0.487, 0.162, 0.40, 0.487, 0.444,
  0.347, 0.422, 0.444, 0.368, 0.336, 0.39, 0.303, 0.319, 0.315, 0.271,
  0.292, 0.19, 0.238, 0.25, 0.217, 0.271, 0.238, 0.249, 0.206, 0.173,
  0.217, 0.162, 0.206, 0.184, 0.217, 0.195, 0.217,
  0.18, 0.16, 0.19, 0.15, 0.17, 0.14, 0.18, 0.16, 0.18, 0.15, 0.18, 0.16, 0.17, 0.15, 0.17, 0.16, 0.18, 0.15, 0.17, 0.15,
  0.18, 0.15, 0.17, 0.14, 0.15];
const tD4 = [2.0, 2.73, 3.37, 4.17, 4.8, 5.69, 6.39, 6.87, 7.35, 7.99, 8.62, 9.26, 9.74, 10.22, 10.69, 11.17, 11.81, 12.29, 12.76, 13.4,
  14.52, 15.31, 16.11, 17.06, 17.86, 19.13, 20.73, 22.32, 24.07, 25.34, 27.1, 28.69, 30.28, 31.55, 33.15, 34.74, 36.65, 38.24, 39.99, 41.43,
  43.02, 44.45, 46.2, 47.16, 48.91, 50.18, 51.3,
  53.0, 54.6, 56.2, 57.8, 59.4, 61.0, 62.6, 64.2, 65.8, 67.4, 69.0, 70.6, 72.2, 73.8, 75.4, 77.0, 78.6, 80.2, 81.8, 83.4,
  85.0, 86.6, 88.2, 89.8, 91.4, 93.0, 94.6, 96.2, 97.8, 99.2, 100];
const vD4 = [0.726, 0.379, 0.097, 0.271, 0.487, 0.715, 0.347, 0.36, 0.292, 0.693,
  0.65, 0.639, 0.433, 0.498, 0.444, 0.455, 0.422, 0.52, 0.49, 0.206,
  0.704, 0.596, 0.433, 0.357, 0.574, 0.379, 0.444, 0.271, 0.477, 0.292,
  0.401, 0.26, 0.319, 0.282, 0.347, 0.227, 0.303, 0.195, 0.276, 0.217,
  0.26, 0.233, 0.238, 0.245, 0.195, 0.26, 0.195,
  0.24, 0.15, 0.23, 0.14, 0.22, 0.14, 0.23, 0.14, 0.22, 0.14, 0.23, 0.15, 0.23, 0.14, 0.23, 0.15, 0.23, 0.15, 0.22, 0.14,
  0.22, 0.15, 0.22, 0.15, 0.21, 0.14, 0.21, 0.15, 0.21, 0.15, 0.21];
const tD5 = [2.0, 2.1, 2.57, 3.05, 3.85, 4.32, 4.8, 5.28, 6.08, 6.71, 7.35, 7.99, 8.46, 8.94, 9.58, 10.22, 11.17, 11.97, 12.76, 13.24,
  14.2, 15.15, 16.11, 17.22, 18.18, 19.13, 20.73, 22.48, 24.07, 25.66, 27.41, 28.85, 29.64, 31.24, 33.46, 35.06, 37.29, 38.72, 40.15, 41.75,
  43.18, 44.45, 45.25, 46.2, 47.16, 48.75, 50.03,
  51.5, 53.0, 54.5, 56.0, 57.5, 59.2, 60.8, 62.5, 64.2, 65.8, 67.4, 69.0, 70.6, 72.2, 73.8, 75.4, 77.0, 78.6, 80.2, 81.8,
  83.4, 85.0, 86.6, 88.2, 89.8, 91.4, 93.0, 94.6, 96.2, 97.8, 99.2, 100];
const vD5 = [1.0, 1.06, 0.60, 0.27, 0.0, 0.27, 0.487, 0.292, 0.498, 0.45,
  0.40, 0.769, 0.736, 0.769, 0.531, 0.444, 0.818, 0.487, 0.336, 0.487,
  0.60, 0.709, 0.40, 0.487, 0.498, 0.466, 0.585, 0.271, 0.607, 0.336,
  0.466, 0.379, 0.401, 0.26, 0.433, 0.265, 0.39, 0.26, 0.352, 0.238,
  0.347, 0.238, 0.25, 0.233, 0.276, 0.195, 0.303,
  0.19, 0.27, 0.17, 0.25, 0.16, 0.22, 0.16, 0.25, 0.16, 0.24, 0.16, 0.25, 0.16, 0.25, 0.16, 0.25, 0.17, 0.24, 0.16, 0.24,
  0.16, 0.24, 0.14, 0.21, 0.14, 0.22, 0.15, 0.22, 0.14, 0.19, 0.15, 0.20];

// ---- styling
const FONT = 'Liberation Serif, Times New Roman, serif';
const COLORS = ['#8A1B9F', '#FF1E1E', '#1DBBF5', '#139A2B', '#FF9A40'];
const AXIS_COLOR = '#333333';
const TEXT_COLOR = '#1a1a1a';
const W = 3790;
const H = 1464;

const X_DOMAINS = [[0.0602, 0.4863], [0.5607, 0.9871]];
const Y_DOMAINS = [[0.6619, 0.9153], [0.1831, 0.4372]];

const axisIds = ['', '2', '3', '4'];

function lineTrace(i, panel, xs, ys) {
  return {
    type: 'scatter',
    mode: 'lines',
    name: seriesNames[i],
    x: xs,
    y: ys,
    xaxis: 'x' + axisIds[panel],
    yaxis: 'y' + axisIds[panel],
    showlegend: false,
    line: { color: COLORS[i], width: 4.8 },
    hoverinfo: 'skip'
  };
}

function xAxis(panel) {
  return {
    domain: X_DOMAINS[panel % 2],
    anchor: 'y' + axisIds[panel],
    range: [2, 100],
    tickmode: 'array',
    tickvals: xTickVals,
    ticktext: xTickText,
    ticks: 'inside',
    ticklen: 13,
    tickwidth: 4,
    tickcolor: AXIS_COLOR,
    minor: { tickmode: 'linear', tick0: 0, dtick: 2, ticks: 'inside', ticklen: 8, tickwidth: 3, tickcolor: AXIS_COLOR, showgrid: false },
    showline: true,
    linecolor: AXIS_COLOR,
    linewidth: 5,
    showgrid: false,
    zeroline: false,
    automargin: false,
    fixedrange: true,
    ticklabelstandoff: -26,
    tickfont: { family: FONT, size: 57, color: TEXT_COLOR },
    title: { text: '<i>t</i> (s)', font: { family: FONT, size: 62, color: TEXT_COLOR }, standoff: 2 }
  };
}

function yAxis(panel) {
  const isA = panel === 0;
  return {
    domain: Y_DOMAINS[Math.floor(panel / 2)],
    anchor: 'x' + axisIds[panel],
    range: isA ? [0.95, 1.25] : [0, 1.2],
    tickmode: 'array',
    tickvals: isA ? yTickValsA : yTickVals,
    ticktext: isA ? yTickTextA : yTickText,
    ticks: 'inside',
    ticklen: 16,
    tickwidth: 4,
    tickcolor: AXIS_COLOR,
    showline: true,
    linecolor: AXIS_COLOR,
    linewidth: 5,
    showgrid: false,
    zeroline: false,
    automargin: false,
    fixedrange: true,
    ticklabelstandoff: 2,
    tickfont: { family: FONT, size: 55, color: TEXT_COLOR },
    title: { text: '<i>v</i> (m/s)', font: { family: FONT, size: 64, color: TEXT_COLOR }, standoff: 2 }
  };
}

const panelSeries = [
  [[tA, vA1], [tA, vA2], [tA, vA3], [tA, vA4], [tA, vA5]],
  [null, [tB2, vB2], [tB3, vB3], [tB4, vB4], [tB5, vB5]],
  [[tC1, vC1], [tC2, vC2], [tC3, vC3], [tC4, vC4], [tC5, vC5]],
  [[tD1, vD1], [tD2, vD2], [tD3, vD3], [tD4, vD4], [tD5, vD5]]
];

const traces = [];
panelSeries.forEach(function (series, panel) {
  series.forEach(function (pair, i) {
    if (pair) {
      traces.push(lineTrace(i, panel, pair[0], pair[1]));
    } else {
      // evenly sampled zigzag: let Plotly place it with x0/dx
      const tr = lineTrace(i, panel, undefined, vB1);
      delete tr.x;
      tr.x0 = t0B1;
      tr.dx = dtB1;
      traces.push(tr);
    }
  });
});

// Legend row across the top: a long line swatch and the name after it
const LEGEND_Y = 1 - 44 / H;
const LEGEND_PITCH = 374;
const shapes = [];
const annotations = [];
seriesNames.forEach(function (name, i) {
  const left = 27 + i * LEGEND_PITCH;
  shapes.push({
    type: 'line', xref: 'paper', yref: 'paper',
    x0: left / W, x1: (left + 148) / W, y0: LEGEND_Y, y1: LEGEND_Y,
    line: { color: COLORS[i], width: 6 }
  });
  annotations.push({
    xref: 'paper', yref: 'paper',
    x: (left + 156) / W, y: LEGEND_Y,
    xanchor: 'left', yanchor: 'middle',
    showarrow: false,
    text: name,
    font: { family: FONT, size: 68, color: '#000000' }
  });
});

// Sub-figure captions under each panel
const CAPTION_POS = [[0.2889, 0.5014], [0.7879, 0.5014], [0.2894, 0.0389], [0.7884, 0.0389]];
captionLetters.forEach(function (letter, k) {
  annotations.push({
    xref: 'paper', yref: 'paper',
    x: CAPTION_POS[k][0], y: CAPTION_POS[k][1],
    xanchor: 'center', yanchor: 'middle',
    showarrow: false,
    text: '(<b>' + letter + '</b>) <i>v<sub>j</sub></i> = ' + jetSpeeds[k].toFixed(1) + ' m/s',
    font: { family: FONT, size: 80, color: '#000000' }
  });
});

const layout = {
  width: W,
  height: H,
  margin: { l: 0, r: 0, t: 0, b: 0, pad: 0 },
  paper_bgcolor: '#ffffff',
  plot_bgcolor: '#ffffff',
  font: { family: FONT, color: TEXT_COLOR },
  showlegend: false,
  shapes: shapes,
  annotations: annotations
};
for (let p = 0; p < 4; p++) {
  layout['xaxis' + axisIds[p]] = xAxis(p);
  layout['yaxis' + axisIds[p]] = yAxis(p);
}

Plotly.newPlot('chart', traces, layout, { staticPlot: true, displayModeBar: false, responsive: false });
</script>
</body>
</html>
